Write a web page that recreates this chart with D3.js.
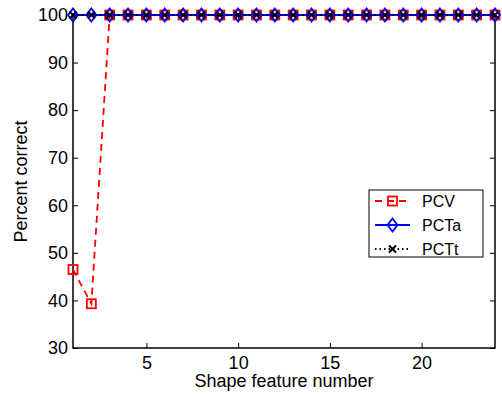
<!DOCTYPE html>
<html>
<head>
<meta charset="utf-8">
<script src="https://cdn.jsdelivr.net/npm/d3@7"></script>
<style>
  body { margin: 0; background: #fff; }
  text { font-family: "Liberation Sans", Arial, sans-serif; }
</style>
</head>
<body>
<div id="chart"></div>
<script>
// data
var featureNums = d3.range(1, 25);
var pcv = [46.5, 39.3, 100, 100, 100, 100, 100, 100, 100, 100, 100, 100,
  100, 100, 100, 100, 100, 100, 100, 100, 100, 100, 100, 100];
var pcta = [100, 100, 100, 100, 100, 100, 100, 100, 100, 100, 100, 100,
  100, 100, 100, 100, 100, 100, 100, 100, 100, 100, 100, 100];
var pctt = [100, 100, 100, 100, 100, 100, 100, 100, 100, 100, 100, 100,
  100, 100, 100, 100, 100, 100, 100, 100, 100, 100, 100, 100];
var xTicks = [5, 10, 15, 20];
var yTicks = [30, 40, 50, 60, 70, 80, 90, 100];
var seriesNames = ["PCV", "PCTa", "PCTt"];

// *****************************************************************************
// dimensions
// *****************************************************************************
var W = 502, H = 394;
var margin = { top: 15, right: 7, bottom: 46, left: 73 },
  width = W - margin.left - margin.right,
  height = H - margin.top - margin.bottom;

var svg = d3.select("#chart").append("svg")
  .attr("width", W).attr("height", H);

svg.append("rect").attr("width", W).attr("height", H).attr("fill", "white");

var g = svg.append("g")
  .attr("transform", "translate(" + margin.left + "," + margin.top + ")");

var x = d3.scaleLinear().domain([1, 24]).range([0, width]);
var y = d3.scaleLinear().domain([30, 100]).range([height, 0]);

var fs = 18;

// *****************************************************************************
// axes (MATLAB style: inward ticks, box)
// *****************************************************************************
var tickLen = 5;
var xAxis = g.append("g").attr("transform", "translate(0," + height + ")")
  .call(d3.axisBottom(x).tickValues(xTicks).tickSize(-tickLen).tickPadding(8));
var yAxis = g.append("g")
  .call(d3.axisLeft(y).tickValues(yTicks).tickSize(-tickLen).tickPadding(5));
var xTop = g.append("g")
  .call(d3.axisTop(x).tickValues(xTicks).tickSize(-tickLen).tickFormat(""));
var yRight = g.append("g").attr("transform", "translate(" + width + ",0)")
  .call(d3.axisRight(y).tickValues(yTicks).tickSize(-tickLen).tickFormat(""));

[xAxis, yAxis, xTop, yRight].forEach(function (a) {
  a.select(".domain").remove();
  a.selectAll("line").attr("stroke", "#000").attr("stroke-width", 1);
  a.selectAll("text").attr("fill", "#000").style("font-size", fs + "px")
    .style("font-family", "'Liberation Sans', Arial, sans-serif");
});

g.append("rect")
  .attr("width", width).attr("height", height)
  .attr("fill", "none").attr("stroke", "#000").attr("stroke-width", 1.5);

// *****************************************************************************
// labels
// *****************************************************************************
svg.append("text")
  .attr("x", margin.left + width / 2).attr("y", 387)
  .attr("text-anchor", "middle").style("font-size", fs + "px")
  .text("Shape feature number");

svg.append("text")
  .attr("transform", "translate(27," + (margin.top + height / 2) + ") rotate(-90)")
  .attr("text-anchor", "middle").style("font-size", fs + "px")
  .text("Percent correct");

// *****************************************************************************
// series
// *****************************************************************************
function lineFor(vals) {
  return d3.line()
    .x(function (d, i) { return x(featureNums[i]); })
    .y(function (d) { return y(d); })(vals);
}

function drawSquare(sel, cx, cy, color) {
  sel.append("rect")
    .attr("x", cx - 4.5).attr("y", cy - 4.5)
    .attr("width", 9).attr("height", 9)
    .attr("fill", "none").attr("stroke", color).attr("stroke-width", 1.8);
}
function drawDiamond(sel, cx, cy, color) {
  sel.append("path")
    .attr("d", "M" + cx + "," + (cy - 6.5) + "L" + (cx + 5) + "," + cy +
      "L" + cx + "," + (cy + 6.5) + "L" + (cx - 5) + "," + cy + "Z")
    .attr("fill", "none").attr("stroke", color).attr("stroke-width", 1.8);
}
function drawCross(sel, cx, cy, color) {
  sel.append("path")
    .attr("d", "M" + (cx - 3.5) + "," + (cy - 3.5) + "L" + (cx + 3.5) + "," + (cy + 3.5) +
      "M" + (cx - 3.5) + "," + (cy + 3.5) + "L" + (cx + 3.5) + "," + (cy - 3.5))
    .attr("stroke", color).attr("stroke-width", 2);
}

var series = [
  { name: seriesNames[0], vals: pcv, color: "#ff0000", dash: "7,5", marker: drawSquare },
  { name: seriesNames[1], vals: pcta, color: "#0000ff", dash: null, marker: drawDiamond },
  { name: seriesNames[2], vals: pctt, color: "#000000", dash: "1.5,3", marker: drawCross }
];

var plot = g.append("g");
series.forEach(function (s) {
  plot.append("path")
    .attr("d", lineFor(s.vals))
    .attr("fill", "none").attr("stroke", s.color).attr("stroke-width", 1.8)
    .attr("stroke-dasharray", s.dash);
  s.vals.forEach(function (v, i) {
    s.marker(plot, x(featureNums[i]), y(v), s.color);
  });
});

// *****************************************************************************
// legend
// *****************************************************************************
var lg = svg.append("g").attr("transform", "translate(369,190)");
lg.append("rect").attr("width", 114).attr("height", 67)
  .attr("fill", "white").attr("stroke", "#000").attr("stroke-width", 1);

series.forEach(function (s, i) {
  var cy = 11 + i * 24;
  lg.append("line")
    .attr("x1", 6).attr("x2", 41).attr("y1", cy).attr("y2", cy)
    .attr("stroke", s.color).attr("stroke-width", 1.8)
    .attr("stroke-dasharray", s.dash);
  s.marker(lg, 23.5, cy, s.color);
  lg.append("text")
    .attr("x", 53).attr("y", cy + 6)
    .style("font-size", "16px")
    .text(s.name);
});
</script>
</body>
</html>
